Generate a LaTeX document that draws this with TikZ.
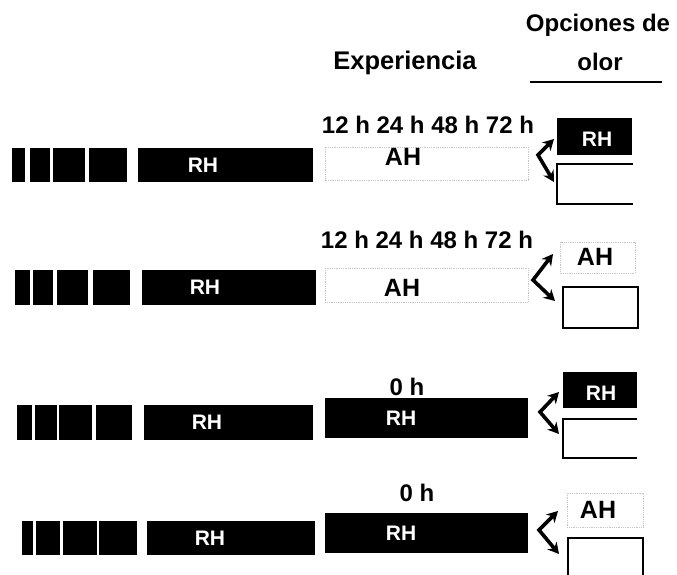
\documentclass[tikz,border=0pt]{standalone}
\usepackage{fontspec}
\setmainfont{Liberation Sans}
\usetikzlibrary{arrows.meta}
\begin{document}
\begin{tikzpicture}[x=1pt,y=-1pt,
  blk/.style={fill=black,draw=none,inner sep=0pt},
  wlab/.style={text=white,font=\bfseries\fontsize{21}{21}\selectfont,inner sep=0pt},
  blab/.style={text=black,font=\bfseries\fontsize{25}{25}\selectfont,inner sep=0pt},
  hdr/.style={font=\bfseries\fontsize{24}{24}\selectfont,inner sep=0pt},
  tlab/.style={font=\bfseries\fontsize{24}{24}\selectfont,inner sep=0pt},
  faded/.style={draw=gray!45,densely dotted,line width=0.8pt},
  wbox/.style={draw=black,line width=1.6pt},
  dbl/.style={line width=3.6pt,{Stealth[length=11pt,width=12pt]}-{Stealth[length=11pt,width=12pt]}}
]
\useasboundingbox (0,0) rectangle (677,575);

% headers
\node[hdr,font=\bfseries\fontsize{25.5}{25.5}\selectfont] (exp) at (405,63) {Experiencia};
\node[hdr] (opc) at (598,25) {Opciones de};
\node[hdr] (olor) at (600,62) {olor};
\coordinate (ul1) at (530,82);
\coordinate (ul2) at (662,82);
\draw[line width=1.5pt] (ul1) -- (ul2);

% ---------- Row 1 ----------
\node[blk,minimum width=13pt,minimum height=34pt] (a1) at (18.5,165) {};
\node[blk,minimum width=20pt,minimum height=34pt] (b1) at (40,165) {};
\node[blk,minimum width=32pt,minimum height=34pt] (c1) at (69,165) {};
\node[blk,minimum width=38pt,minimum height=34pt] (d1) at (108,165) {};
\node[blk,minimum width=175pt,minimum height=34pt] (rh1) at (225.5,165) {};
\node[wlab] (rh1l) at (203,165) {RH};
\node[tlab] (t1) at (428,125) {12 h 24 h 48 h 72 h};
\draw[faded] (325,147) rectangle (528,180);
\node[blab] (ah1) at (403,157) {AH};
\node[blk,minimum width=75pt,minimum height=37pt] (o1a) at (594.5,136.5) {};
\node[wlab] (o1al) at (597,139) {RH};
\draw[wbox] (633,164) -- (557,164) -- (557,204) -- (633,204);
\coordinate (p1t) at (554,139);
\coordinate (p1v) at (538,155);
\coordinate (p1b) at (554,182);
\draw[dbl] (p1t) -- (p1v) -- (p1b);

% ---------- Row 2 ----------
\node[blk,minimum width=15pt,minimum height=35pt] (a2) at (22.5,287.5) {};
\node[blk,minimum width=20pt,minimum height=35pt] (b2) at (43,287.5) {};
\node[blk,minimum width=31pt,minimum height=35pt] (c2) at (72.5,287.5) {};
\node[blk,minimum width=37pt,minimum height=35pt] (d2) at (111.5,287.5) {};
\node[blk,minimum width=174pt,minimum height=35pt] (rh2) at (229,287.5) {};
\node[wlab] (rh2l) at (205,287.5) {RH};
\node[tlab] (t2) at (427,240) {12 h 24 h 48 h 72 h};
\draw[faded] (325,268) rectangle (528,302);
\node[blab] (ah2) at (402,288) {AH};
\draw[faded] (560,242) rectangle (635,273);
\node[blab] (o2al) at (595,257) {AH};
\draw[wbox] (563,287) rectangle (638,328);
\coordinate (p2t) at (553,254);
\coordinate (p2v) at (533,280);
\coordinate (p2b) at (555,301);
\draw[dbl] (p2t) -- (p2v) -- (p2b);

% ---------- Row 3 ----------
\node[blk,minimum width=15pt,minimum height=35pt] (a3) at (24.5,422.5) {};
\node[blk,minimum width=22pt,minimum height=35pt] (b3) at (46,422.5) {};
\node[blk,minimum width=33pt,minimum height=35pt] (c3) at (75.5,422.5) {};
\node[blk,minimum width=36pt,minimum height=35pt] (d3) at (114,422.5) {};
\node[blk,minimum width=169pt,minimum height=35pt] (rh3) at (228.5,422.5) {};
\node[wlab] (rh3l) at (207,422.5) {RH};
\node[tlab] (t3) at (407,387) {0 h};
\node[blk,minimum width=203pt,minimum height=40pt] (rh3b) at (426.5,418) {};
\node[wlab] (rh3bl) at (401,418) {RH};
\node[blk,minimum width=74pt,minimum height=36pt] (o3a) at (600,390) {};
\node[wlab] (o3al) at (601,393) {RH};
\draw[wbox] (637,419) -- (563,419) -- (563,458) -- (637,458);
\coordinate (p3t) at (559,392);
\coordinate (p3v) at (540,412);
\coordinate (p3b) at (559,434);
\draw[dbl] (p3t) -- (p3v) -- (p3b);

% ---------- Row 4 ----------
\node[blk,minimum width=11pt,minimum height=34pt] (a4) at (27.5,538) {};
\node[blk,minimum width=24pt,minimum height=34pt] (b4) at (48,538) {};
\node[blk,minimum width=34pt,minimum height=34pt] (c4) at (80,538) {};
\node[blk,minimum width=38pt,minimum height=34pt] (d4) at (118,538) {};
\node[blk,minimum width=168pt,minimum height=34pt] (rh4) at (231,538) {};
\node[wlab] (rh4l) at (210,538) {RH};
\node[tlab] (t4) at (417,493) {0 h};
\node[blk,minimum width=203pt,minimum height=40pt] (rh4b) at (426.5,533) {};
\node[wlab] (rh4bl) at (401,533) {RH};
\draw[faded] (567,493) rectangle (643,527);
\node[blab] (o4al) at (598,510) {AH};
\draw[wbox] (568,575) -- (568,538) -- (643,538) -- (643,575);
\coordinate (p4t) at (558,511);
\coordinate (p4v) at (539,530);
\coordinate (p4b) at (559,554);
\draw[dbl] (p4t) -- (p4v) -- (p4b);
\end{tikzpicture}
\end{document}
